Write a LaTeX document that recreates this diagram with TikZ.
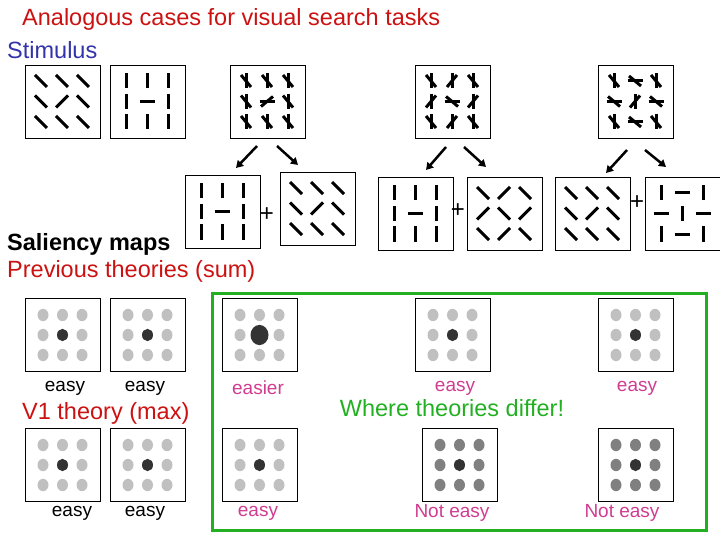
\documentclass[tikz,border=0pt]{standalone}
\usepackage{fontspec}
\setmainfont{Liberation Sans}
\usetikzlibrary{arrows.meta}
\definecolor{tred}{HTML}{CC1111}
\definecolor{tblue}{HTML}{3333AA}
\definecolor{tpink}{HTML}{D03C90}
\definecolor{tgreen}{HTML}{22B022}
\definecolor{lg}{HTML}{C0C0C0}
\definecolor{mg}{HTML}{808080}
\definecolor{dg}{HTML}{333333}
\tikzset{box/.style={draw,line width=1pt,minimum width=75pt,minimum height=73pt,inner sep=0pt,anchor=north west},
 bar/.style={line width=3pt},
 arr/.style={line width=2.5pt,-{Triangle[length=7pt,width=8pt]}},
 lbl/.style={font=\fontsize{23.5}{26}\selectfont,inner sep=0pt},
 sml/.style={font=\fontsize{19}{22}\selectfont,inner sep=0pt},
 plus/.style={font=\fontsize{24}{26}\selectfont,inner sep=0pt}}
\newcommand\bV{\draw[bar](0,-7.5)--(0,7.5);}
\newcommand\bH{\draw[bar](-7.5,0)--(7.5,0);}
\newcommand\bD{\draw[bar](-6,-6)--(6,6);}
\newcommand\bA{\draw[bar](-6,6)--(6,-6);}
\newcommand\bVD{\bV\draw[bar](-5,-6)--(5,6);}
\newcommand\bVA{\bV\draw[bar](-5,6)--(5,-6);}
\newcommand\bHD{\bH\draw[bar](-6,-5)--(6,5);}
\newcommand\bHA{\bH\draw[bar](-6,5)--(6,-5);}
\newcommand\bargrid[4]{% name, x, y, codes
 \node[box] (#1) at (#2,#3) {};
 \foreach \c [count=\i from 0] in {#4}{
  \pgfmathtruncatemacro\col{mod(\i,3)}\pgfmathtruncatemacro\row{\i/3}
  \begin{scope}[shift={(#2+16+21*\col,#3+16+20.5*\row)}]\csname b\c\endcsname\end{scope}}}
\newcommand\dotgrid[6]{% name,x,y,center col,other col,center radius
 \node[box] (#1) at (#2,#3) {};
 \foreach \i in {0,...,8}{
  \pgfmathtruncatemacro\col{mod(\i,3)}\pgfmathtruncatemacro\row{\i/3}
  \ifnum\i=4 \fill[#4] (#2+18+19.5*\col,#3+17+20*\row) ellipse ({#6} and {#6*1.12});
  \else \fill[#5] (#2+18+19.5*\col,#3+17+20*\row) ellipse (5.5 and 6.2);\fi}}
\begin{document}
\begin{tikzpicture}[x=1pt,y=-1pt]
\useasboundingbox (0,0) rectangle (720,540);
\node[lbl,tred,anchor=west] (title) at (22,19) {Analogous cases for visual search tasks};
\node[lbl,tblue,anchor=west] (stim) at (7,50) {Stimulus};
\node[lbl,anchor=west,font=\fontsize{23.5}{26}\selectfont\bfseries] (sal) at (7,244) {Saliency maps};
\node[lbl,tred,anchor=west] (prev) at (7,271) {Previous theories (sum)};
\node[lbl,tred,anchor=west] (v1) at (22,413) {V1 theory (max)};
\node[lbl,tgreen] (where) at (452,408) {Where theories differ!};
% stimuli
\bargrid{s1}{25}{65}{D,D,D,D,A,D,D,D,D}
\bargrid{s2}{110}{65}{V,V,V,V,H,V,V,V,V}
\bargrid{s3}{230}{65}{VD,VD,VD,VD,HA,VD,VD,VD,VD}
\bargrid{s4}{415}{65}{VD,VA,VD,VA,HD,VA,VD,VA,VD}
\bargrid{s5}{598}{65}{VD,HD,VD,HD,VA,HD,VD,HD,VD}
% feature maps
\bargrid{f1}{185}{175}{V,V,V,V,H,V,V,V,V}
\bargrid{f2}{280}{172}{D,D,D,D,A,D,D,D,D}
\bargrid{f3}{378}{177}{V,V,V,V,H,V,V,V,V}
\bargrid{f4}{467}{177}{D,A,D,A,D,A,D,A,D}
\bargrid{f5}{555}{177}{D,D,D,D,A,D,D,D,D}
\bargrid{f6}{645}{177}{V,H,V,H,V,H,V,H,V}
\node[plus] (p1) at (267,215) {+};
\node[plus] (p2) at (458,211) {+};
\node[plus] (p3) at (637,203) {+};
\draw[arr] (257,146)--(236,168);
\draw[arr] (277,146)--(298,165);
\draw[arr] (446,147)--(426,170);
\draw[arr] (464,147)--(486,167);
\draw[arr] (627,150)--(606,173);
\draw[arr] (645,150)--(666,167);
% green box
\draw[tgreen,line width=3pt] (212,293) rectangle (706,530);
% dot grids
\dotgrid{d1}{25}{298}{dg}{lg}{5.5}
\dotgrid{d2}{110}{298}{dg}{lg}{5.5}
\dotgrid{d3}{222}{298}{dg}{lg}{9}
\dotgrid{d4}{415}{298}{dg}{lg}{5.5}
\dotgrid{d5}{598}{298}{dg}{lg}{5.5}
\dotgrid{d6}{25}{428}{dg}{lg}{5.5}
\dotgrid{d7}{110}{428}{dg}{lg}{5.5}
\dotgrid{d8}{222}{428}{dg}{lg}{5.5}
\dotgrid{d9}{422}{428}{dg}{mg}{5.5}
\dotgrid{d10}{598}{428}{dg}{mg}{5.5}
\node[sml] (e1) at (65,388) {easy};
\node[sml] (e2) at (145,388) {easy};
\node[sml,tpink] (e3) at (258,388) {easier};
\node[sml,tpink] (e4) at (455,388) {easy};
\node[sml,tpink] (e5) at (637,388) {easy};
\node[sml] (e6) at (72,513) {easy};
\node[sml] (e7) at (145,513) {easy};
\node[sml,tpink] (e8) at (258,513) {easy};
\node[sml,tpink] (e9) at (452,513) {Not easy};
\node[sml,tpink] (e10) at (622,513) {Not easy};
\end{tikzpicture}
\end{document}
